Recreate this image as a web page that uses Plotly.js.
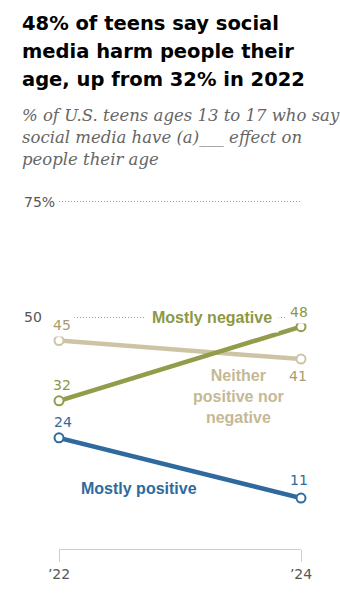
<!DOCTYPE html>
<html>
<head>
<meta charset="utf-8">
<script src="https://cdn.plot.ly/plotly-3.0.1.min.js"></script>
<style>html,body{margin:0;padding:0;background:#fff;}#chart{width:340px;height:594px;}</style>
</head>
<body>
<div id="chart"></div>
<script>
// ---- data ----
const years = [2022, 2024];
const yearLabels = ["\u201922", "\u201924"];
const mostlyNegative = [32, 48];
const neither = [45, 41];
const mostlyPositive = [24, 11];
const yTickVals = [50, 75];
const yTickText = ["50", "75%"];
const titleLines = ["48% of teens say social", "media harm people their", "age, up from 32% in 2022"];
const subtitleLines = ["% of U.S. teens ages 13 to 17 who say", "social media have (a)___ effect on", "people their age"];

// ---- layout geometry ----
const W = 340, H = 594;
const Y_MAX = 76;
const M = {l: 58.5, r: 38.5, t: 197.4, b: 44.6};
const pw = W - M.l - M.r, ph = H - M.t - M.b;
const px2x = px => (px - M.l) / pw;
const py2y = py => (H - M.b - py) / ph;

const cGreen = "#939c4a", cGreenTxt = "#8d9744";
const cTan = "#cdc4a6", cTanNum = "#a99b6d", cTanTxt = "#c4b994";
const cBlue = "#2e6a9d", cBlueTxt = "#2f6a9c";
const numFont = "DejaVu Sans";
const lblFont = "Liberation Sans, Arial, sans-serif";

function trace(y, color) {
  return {
    x: years, y: y, type: "scatter", mode: "lines+markers", cliponaxis: false,
    line: {color: color, width: 4.5},
    marker: {symbol: "circle", size: 9, color: "#fff", line: {color: color, width: 2}},
    hoverinfo: "skip", showlegend: false
  };
}
const data = [trace(neither, cTan), trace(mostlyNegative, cGreen), trace(mostlyPositive, cBlue)];

const ann = [];
titleLines.forEach((t, i) => ann.push({
  text: t, xref: "paper", yref: "paper", x: px2x(19), y: py2y([23.5, 51.5, 80][i]),
  xanchor: "left", yanchor: "middle", showarrow: false,
  font: {family: "DejaVu Sans", size: 19.5, color: "#000", weight: "bold"}
}));
subtitleLines.forEach((t, i) => ann.push({
  text: "<i>" + t + "</i>", xref: "paper", yref: "paper", x: px2x(19), y: py2y([116, 138, 160][i]),
  xanchor: "left", yanchor: "middle", showarrow: false,
  font: {family: "DejaVu Serif", size: 16.5, color: "#666"}
}));
yTickVals.forEach((v, i) => ann.push({
  text: yTickText[i], xref: "paper", yref: "y", x: px2x(21.5), y: v,
  xanchor: "left", yanchor: "middle", showarrow: false,
  font: {family: numFont, size: 14, color: "#555"}
}));
function num(xi, series, color, yshift, xshift, bg) {
  ann.push({
    text: String(series[xi]), x: years[xi], y: series[xi], xref: "x", yref: "y",
    xanchor: "center", yanchor: "middle", yshift: yshift, xshift: xshift, showarrow: false,
    bgcolor: bg ? "#fff" : "rgba(0,0,0,0)", borderpad: bg ? 3 : 0,
    font: {family: numFont, size: 14, color: color}
  });
}
num(0, neither, cTanNum, 15.5, 2.5, true);
num(1, neither, cTanNum, -16.5, -3, false);
num(0, mostlyNegative, cGreenTxt, 16, 3, false);
num(1, mostlyNegative, cGreenTxt, 15, -2.5, true);
num(0, mostlyPositive, cBlueTxt, 16, 4, false);
num(1, mostlyPositive, cBlueTxt, 18.5, -2.5, false);

ann.push({text: "<b>Mostly negative</b>", xref: "paper", yref: "y", x: px2x(211.7), y: 50,
  xanchor: "center", yanchor: "middle", showarrow: false, bgcolor: "#fff", borderpad: 6,
  font: {family: lblFont, size: 16, color: cGreenTxt}});
ann.push({text: "<b>Neither<br>positive nor<br>negative</b>", xref: "paper", yref: "paper",
  x: px2x(239), y: py2y(397), xanchor: "center", yanchor: "middle", align: "center", showarrow: false,
  font: {family: lblFont, size: 16, color: cTanTxt}});
ann.push({text: "<b>Mostly positive</b>", xref: "paper", yref: "paper", x: px2x(139), y: py2y(489),
  xanchor: "center", yanchor: "middle", showarrow: false,
  font: {family: lblFont, size: 16, color: cBlueTxt}});

const layout = {
  width: W, height: H, margin: M, paper_bgcolor: "#fff", plot_bgcolor: "#fff",
  showlegend: false,
  xaxis: {range: [2022, 2024], tickvals: years, ticktext: yearLabels, showgrid: false, zeroline: false,
    showline: true, linecolor: "#cfcfcf", linewidth: 1, ticks: "outside", ticklen: 12, tickwidth: 1,
    tickcolor: "#cfcfcf", tickfont: {family: numFont, size: 14, color: "#555"}, fixedrange: true},
  yaxis: {range: [0, Y_MAX], tickvals: yTickVals, showticklabels: false, showgrid: true,
    gridcolor: "#9a9a9a", gridwidth: 1, griddash: "1px,2px", zeroline: false, showline: false, fixedrange: true},
  annotations: ann
};
Plotly.newPlot("chart", data, layout, {displayModeBar: false, staticPlot: true});
</script>
</body>
</html>
